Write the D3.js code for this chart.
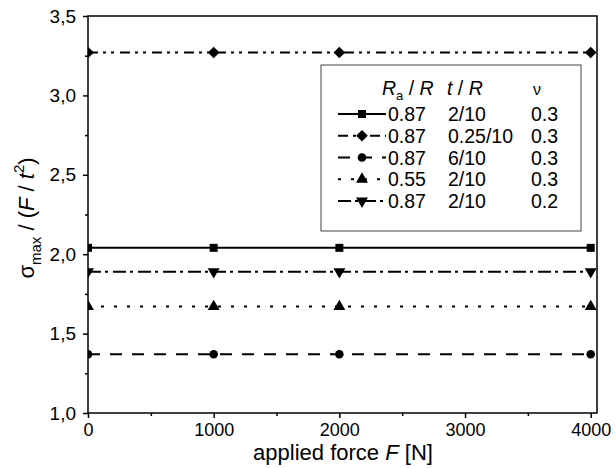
<!DOCTYPE html>
<html>
<head>
<meta charset="utf-8">
<script src="https://cdn.jsdelivr.net/npm/d3@7"></script>
<style>
  html, body { margin: 0; padding: 0; background: #fff; }
  svg { display: block; font-family: "Liberation Sans", Arial, sans-serif; }
</style>
</head>
<body>
<svg id="chart" width="616" height="468"></svg>
<script>
// Applied force values (N) at which the stress was evaluated
const forces = [0, 1000, 2000, 4000];

// Normalised peak stress sigma_max / (F / t^2) for each geometry
const seriesSquare   = [2.04, 2.04, 2.04, 2.04];
const seriesDiamond  = [3.27, 3.27, 3.27, 3.27];
const seriesCircle   = [1.37, 1.37, 1.37, 1.37];
const seriesTriUp    = [1.67, 1.67, 1.67, 1.67];
const seriesTriDown  = [1.89, 1.89, 1.89, 1.89];

// Parameter columns shown in the legend
const ratioRa = ["0.87", "0.87", "0.87", "0.55", "0.87"];
const ratioT  = ["2/10", "0.25/10", "6/10", "2/10", "2/10"];
const poisson = ["0.3", "0.3", "0.3", "0.3", "0.2"];

// Axis ticks
const xTicks = [0, 1000, 2000, 3000, 4000];
const xMinor = [500, 1500, 2500, 3500];
const yTicks = [1.0, 1.5, 2.0, 2.5, 3.0, 3.5];
const yMinor = [1.25, 1.75, 2.25, 2.75, 3.25];
const yFmt = v => d3.format(".1f")(v).replace(".", ",");

// Diamond drawn as a square turned by 45 degrees
const series = [
  { values: seriesSquare,  symbol: d3.symbolSquare,   size: 64, rot: 0,   dash: null },
  { values: seriesDiamond, symbol: d3.symbolSquare,   size: 68, rot: 45,  dash: "10,5,3,5,3,6" },
  { values: seriesCircle,  symbol: d3.symbolCircle,   size: 58, rot: 0,   dash: "12,10" },
  { values: seriesTriUp,   symbol: d3.symbolTriangle, size: 62, rot: 0,   dash: "3,10" },
  { values: seriesTriDown, symbol: d3.symbolTriangle, size: 62, rot: 180, dash: "13,4,3,5" }
];

const svg = d3.select("#chart");
const plotL = 88, plotR = 597, plotT = 16, plotB = 413;

const x = d3.scaleLinear().domain([0, 4050]).range([plotL, plotR]);
const y = d3.scaleLinear().domain([1.0, 3.5]).range([plotB, plotT]);

svg.append("defs").append("clipPath").attr("id", "plotClip")
  .append("rect").attr("x", plotL).attr("y", plotT)
  .attr("width", plotR - plotL).attr("height", plotB - plotT);

// Data lines and markers
const plot = svg.append("g").attr("clip-path", "url(#plotClip)");
const line = d3.line().x((d, i) => x(forces[i])).y(d => y(d));

series.forEach(s => {
  plot.append("path")
    .datum(s.values)
    .attr("d", line)
    .attr("fill", "none")
    .attr("stroke", "#000")
    .attr("stroke-width", 2)
    .attr("stroke-dasharray", s.dash);
  plot.selectAll(null)
    .data(s.values)
    .join("path")
    .attr("d", d3.symbol(s.symbol, s.size))
    .attr("transform", (d, i) => `translate(${x(forces[i])},${y(d)}) rotate(${s.rot})`)
    .attr("fill", "#000");
});

// Frame
svg.append("rect")
  .attr("x", plotL).attr("y", plotT)
  .attr("width", plotR - plotL).attr("height", plotB - plotT)
  .attr("fill", "none").attr("stroke", "#000").attr("stroke-width", 1.5);

// Bottom axis
const xAxis = svg.append("g").attr("transform", `translate(0,${plotB})`)
  .call(d3.axisBottom(x).tickValues(xTicks).tickSize(5).tickPadding(5).tickFormat(d3.format("d")));
xAxis.select(".domain").remove();
xAxis.selectAll(".tick line").attr("stroke-width", 1.5);
xAxis.selectAll(".tick text").attr("font-size", 18).attr("font-family", "Liberation Sans, Arial, sans-serif");
svg.append("g").attr("transform", `translate(0,${plotB})`)
  .call(d3.axisBottom(x).tickValues(xMinor).tickSize(3).tickFormat(""))
  .call(g => g.select(".domain").remove())
  .selectAll(".tick line").attr("stroke-width", 1.5);

// Left axis
const yAxis = svg.append("g").attr("transform", `translate(${plotL},0)`)
  .call(d3.axisLeft(y).tickValues(yTicks).tickSize(5).tickPadding(7).tickFormat(yFmt));
yAxis.select(".domain").remove();
yAxis.selectAll(".tick line").attr("stroke-width", 1.5);
yAxis.selectAll(".tick text").attr("font-size", 19).attr("font-family", "Liberation Sans, Arial, sans-serif");
svg.append("g").attr("transform", `translate(${plotL},0)`)
  .call(d3.axisLeft(y).tickValues(yMinor).tickSize(3).tickFormat(""))
  .call(g => g.select(".domain").remove())
  .selectAll(".tick line").attr("stroke-width", 1.5);

// Axis titles
const xt = svg.append("text")
  .attr("x", 343).attr("y", 460)
  .attr("text-anchor", "middle").attr("font-size", 22);
xt.append("tspan").text("applied force ");
xt.append("tspan").attr("font-style", "italic").text("F");
xt.append("tspan").text(" [N]");

const yt = svg.append("text")
  .attr("transform", "translate(34,218) rotate(-90)")
  .attr("text-anchor", "middle").attr("font-size", 22);
yt.append("tspan").text("σ");
yt.append("tspan").attr("font-size", 15).attr("dy", 7).text("max");
yt.append("tspan").attr("dy", -7).text(" / (");
yt.append("tspan").attr("font-style", "italic").text("F");
yt.append("tspan").text(" / ");
yt.append("tspan").attr("font-style", "italic").text("t");
yt.append("tspan").attr("font-size", 15).attr("dy", -10).text("2");
yt.append("tspan").attr("dy", 10).text(")");

// Legend
const lg = svg.append("g");
lg.append("rect")
  .attr("x", 321).attr("y", 65).attr("width", 260).attr("height", 166)
  .attr("fill", "#fff").attr("stroke", "#444").attr("stroke-width", 1);

const hdr = lg.append("text").attr("y", 95).attr("font-size", 19.5);
hdr.append("tspan").attr("x", 382).attr("font-style", "italic").text("R");
hdr.append("tspan").attr("font-size", 13).attr("dy", 5).text("a");
hdr.append("tspan").attr("dy", -5).text(" / ");
hdr.append("tspan").attr("font-style", "italic").text("R");
const hdr2 = lg.append("text").attr("x", 447).attr("y", 95).attr("font-size", 19.5);
hdr2.append("tspan").attr("font-style", "italic").text("t");
hdr2.append("tspan").text(" / ");
hdr2.append("tspan").attr("font-style", "italic").text("R");
lg.append("text").attr("x", 537).attr("y", 95).attr("font-size", 16)
  .attr("text-anchor", "middle").text("ν");

const rowY = d3.scalePoint().domain(d3.range(series.length)).range([121, 208]);
series.forEach((s, i) => {
  const cy = rowY(i) - 7;
  lg.append("line")
    .attr("x1", 338).attr("x2", 386).attr("y1", cy).attr("y2", cy)
    .attr("stroke", "#000").attr("stroke-width", 2)
    .attr("stroke-dasharray", s.dash);
  lg.append("path")
    .attr("d", d3.symbol(s.symbol, s.size))
    .attr("transform", `translate(362,${cy}) rotate(${s.rot})`)
    .attr("fill", "#000");
  lg.append("text").attr("x", 388).attr("y", rowY(i)).attr("font-size", 19.5).text(ratioRa[i]);
  lg.append("text").attr("x", 448).attr("y", rowY(i)).attr("font-size", 19.5).text(ratioT[i]);
  lg.append("text").attr("x", 531).attr("y", rowY(i)).attr("font-size", 19.5).text(poisson[i]);
});
</script>
</body>
</html>
